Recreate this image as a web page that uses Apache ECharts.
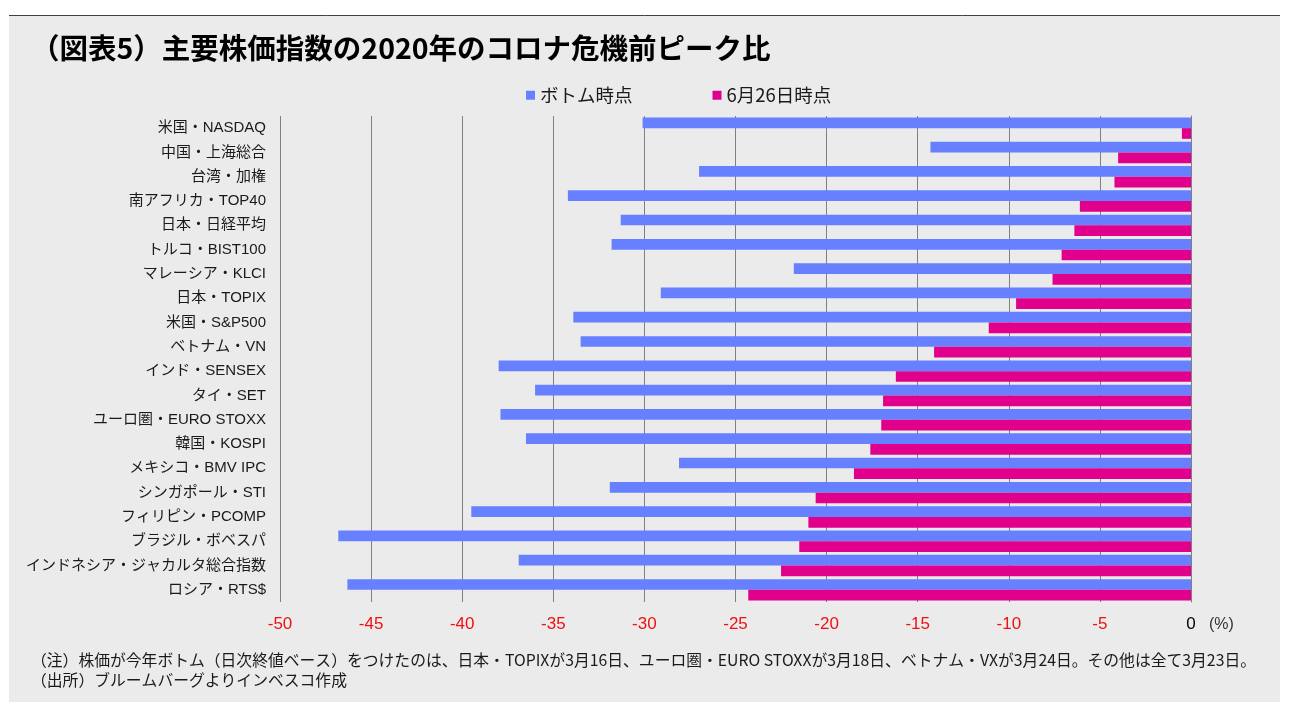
<!DOCTYPE html>
<html>
<head>
<meta charset="utf-8">
<script src="https://cdn.jsdelivr.net/npm/echarts@6/dist/echarts.min.js"></script>
<style>
html,body{margin:0;padding:0;background:#ffffff;}
#chart{width:1295px;height:720px;}
</style>
</head>
<body>
<div id="chart"></div>
<script>
const titleText = '（図表5）主要株価指数の2020年のコロナ危機前ピーク比';
const seriesNames = ['ボトム時点', '6月26日時点'];
const categories = [
  '米国・NASDAQ', '中国・上海総合', '台湾・加権', '南アフリカ・TOP40', '日本・日経平均',
  'トルコ・BIST100', 'マレーシア・KLCI', '日本・TOPIX', '米国・S&P500', 'ベトナム・VN',
  'インド・SENSEX', 'タイ・SET', 'ユーロ圏・EURO STOXX', '韓国・KOSPI', 'メキシコ・BMV IPC',
  'シンガポール・STI', 'フィリピン・PCOMP', 'ブラジル・ボベスパ', 'インドネシア・ジャカルタ総合指数', 'ロシア・RTS$'
];
const bottomValues = [-30.1, -14.3, -27.0, -34.2, -31.3, -31.8, -21.8, -29.1, -33.9, -33.5,
  -38.0, -36.0, -37.9, -36.5, -28.1, -31.9, -39.5, -46.8, -36.9, -46.3];
const june26Values = [-0.5, -4.0, -4.2, -6.1, -6.4, -7.1, -7.6, -9.6, -11.1, -14.1,
  -16.2, -16.9, -17.0, -17.6, -18.5, -20.6, -21.0, -21.5, -22.5, -24.3];
const xMin = -50, xMax = 0, xStep = 5;
const unitLabel = '(%)';
const noteLines = [
  '（注）株価が今年ボトム（日次終値ベース）をつけたのは、日本・TOPIXが3月16日、ユーロ圏・EURO STOXXが3月18日、ベトナム・VXが3月24日。その他は全て3月23日。',
  '（出所）ブルームバーグよりインベスコ作成'
];

const FONT = "'Liberation Sans', 'Noto Sans CJK JP', sans-serif";
const chart = echarts.init(document.getElementById('chart'), null, {renderer: 'canvas'});

const nLines = (xMax - xMin) / xStep + 1;
const splitColors = [];
for (let i = 0; i < nLines; i++) splitColors.push(i === nLines - 1 ? 'rgba(0,0,0,0)' : '#808080');

chart.setOption({
  backgroundColor: '#ffffff',
  textStyle: {fontFamily: FONT},
  graphic: [
    {type: 'rect', left: 9, top: 16, shape: {width: 1271, height: 686}, style: {fill: '#ebebeb'}, z: -10, silent: true},
    {type: 'line', shape: {x1: 9, y1: 15.5, x2: 1280, y2: 15.5}, style: {stroke: '#404040', lineWidth: 1}, z: -9, silent: true},
    {type: 'text', left: 31, top: 652, style: {text: noteLines[0], font: "15.8px 'Noto Sans CJK JP', sans-serif", fill: '#1a1a1a'}},
    {type: 'text', left: 31, top: 672, style: {text: noteLines[1], font: "15.8px 'Noto Sans CJK JP', sans-serif", fill: '#1a1a1a'}}
  ],
  title: {
    text: titleText,
    left: 26, top: 29,
    textStyle: {fontFamily: "'Noto Sans CJK JP', sans-serif", fontWeight: 'bold', fontSize: 28.5, color: '#000000'}
  },
  legend: {
    data: seriesNames,
    left: 521, top: 81,
    icon: 'rect', itemWidth: 9, itemHeight: 9, itemGap: 80,
    textStyle: {fontFamily: "'Noto Sans CJK JP', sans-serif", fontSize: 18.5, color: '#1a1a1a'}
  },
  grid: {left: 280, right: 104, top: 116, bottom: 118, containLabel: false},
  xAxis: {
    type: 'value', min: xMin, max: xMax, interval: xStep,
    name: unitLabel, nameLocation: 'end', nameGap: 18,
    nameTextStyle: {fontSize: 16, color: '#333333', verticalAlign: 'top', padding: [15, 0, 0, 0], fontFamily: FONT},
    axisLine: {show: false}, axisTick: {show: false},
    axisLabel: {
      margin: 14, fontSize: 17, fontFamily: FONT,
      color: function (v) { return Number(v) === 0 ? '#000000' : '#ee1111'; }
    },
    splitLine: {show: true, lineStyle: {color: splitColors, width: 1}}
  },
  yAxis: {
    type: 'category', data: categories, inverse: true,
    axisLine: {show: true, lineStyle: {color: '#808080', width: 1}},
    axisTick: {show: false},
    axisLabel: {fontSize: 15, color: '#1a1a1a', margin: 14, fontFamily: FONT, padding: [6, 0, 0, 0]}
  },
  series: [
    {name: seriesNames[0], type: 'bar', data: bottomValues, itemStyle: {color: '#6680ff'}, barGap: '0%', barCategoryGap: '12%'},
    {name: seriesNames[1], type: 'bar', data: june26Values, itemStyle: {color: '#e0008c'}, barGap: '0%', barCategoryGap: '12%'}
  ]
});
</script>
</body>
</html>
